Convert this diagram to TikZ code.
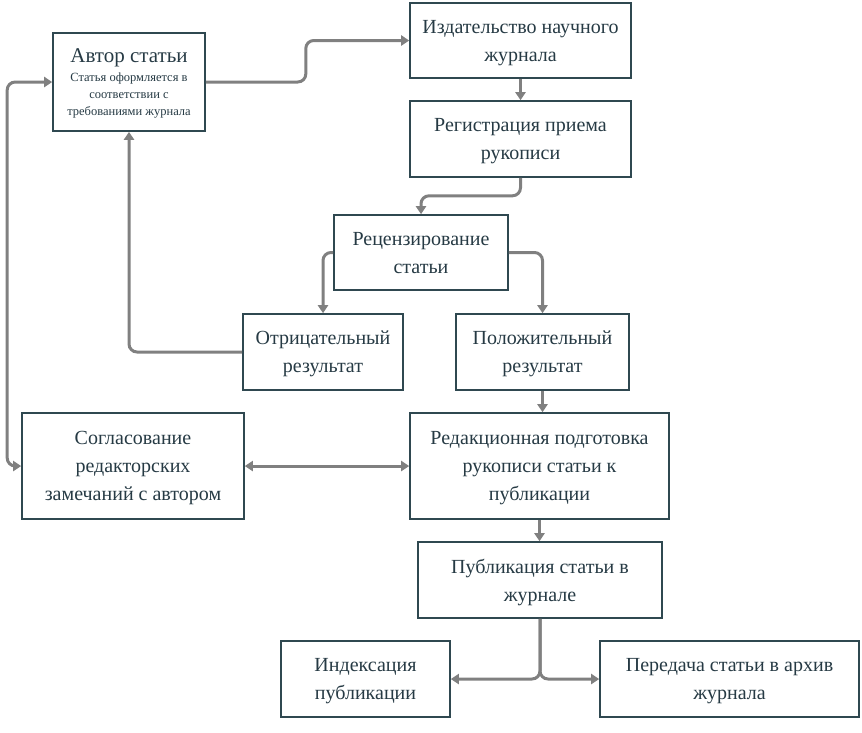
\documentclass[tikz,border=0pt]{standalone}
\usepackage{fontspec}
\setmainfont{Liberation Serif}
\usetikzlibrary{arrows.meta}
\definecolor{boxline}{RGB}{47,72,80}
\definecolor{boxtext}{RGB}{38,58,68}
\definecolor{flow}{RGB}{128,128,128}

\begin{document}
\begin{tikzpicture}[x=1pt,y=-1pt,
  stage/.style={draw=boxline,line width=1.6pt,text=boxtext,align=center,inner sep=0pt,
    text depth=-4pt,font=\fontsize{20}{28}\selectfont},
  flowline/.style={draw=flow,line width=3pt,rounded corners=8pt,
    -{Triangle[length=8pt,width=10pt]}},
  twoway/.style={flowline,{Triangle[length=8pt,width=10pt]}-{Triangle[length=8pt,width=10pt]}}]
\useasboundingbox (0,0) rectangle (862,732);

\node[stage,minimum width=152pt,minimum height=98pt,font=\fontsize{12.5}{17}\selectfont] (author) at (129,82)
  {{\fontsize{21}{24}\selectfont Автор статьи}\\[2pt]Статья оформляется в\\соответствии с\\требованиями журнала};
\node[stage,minimum width=221pt,minimum height=75pt] (publisher) at (520.5,40.5) {Издательство научного\\журнала};
\node[stage,minimum width=221pt,minimum height=76pt] (register) at (520.5,139) {Регистрация приема\\рукописи};
\node[stage,minimum width=174pt,minimum height=75pt] (review) at (421,252.5) {Рецензирование\\статьи};
\node[stage,minimum width=160pt,minimum height=76pt] (negative) at (323,352) {Отрицательный\\результат};
\node[stage,minimum width=173pt,minimum height=76pt] (positive) at (542.5,352) {Положительный\\результат};
\node[stage,minimum width=222pt,minimum height=106pt] (agree) at (133,466) {Согласование\\редакторских\\замечаний с автором};
\node[stage,minimum width=259pt,minimum height=106pt] (editing) at (539.5,466) {Редакционная подготовка\\рукописи статьи к\\публикации};
\node[stage,minimum width=244pt,minimum height=76pt] (publish) at (540,580) {Публикация статьи в\\журнале};
\node[stage,minimum width=169pt,minimum height=76pt] (index) at (365.5,679) {Индексация\\публикации};
\node[stage,minimum width=259pt,minimum height=76pt] (archive) at (729.5,679) {Передача статьи в архив\\журнала};

\draw[flowline] (author.east) -- ++(100,0) |- (publisher.west);
\draw[flowline] (publisher.south) -- (register.north);
\draw[flowline] (register.south) -- ++(0,18) -| (review.north);
\draw[flowline] (review.west) -| (negative.north);
\draw[flowline] (review.east) -| (positive.north);
\draw[flowline] (negative.west) -| (author.south);
\draw[flowline] (positive.south) -- (positive.south |- editing.north);
\draw[twoway] (agree.east) -- (editing.west);
\draw[twoway] (agree.west) -- ++(-14,0) |- (author.west);
\draw[flowline] (editing.south) -- (editing.south |- publish.north);
\draw[flowline] (publish.south) |- (index.east);
\draw[flowline] (publish.south) |- (archive.west);
\end{tikzpicture}
\end{document}
